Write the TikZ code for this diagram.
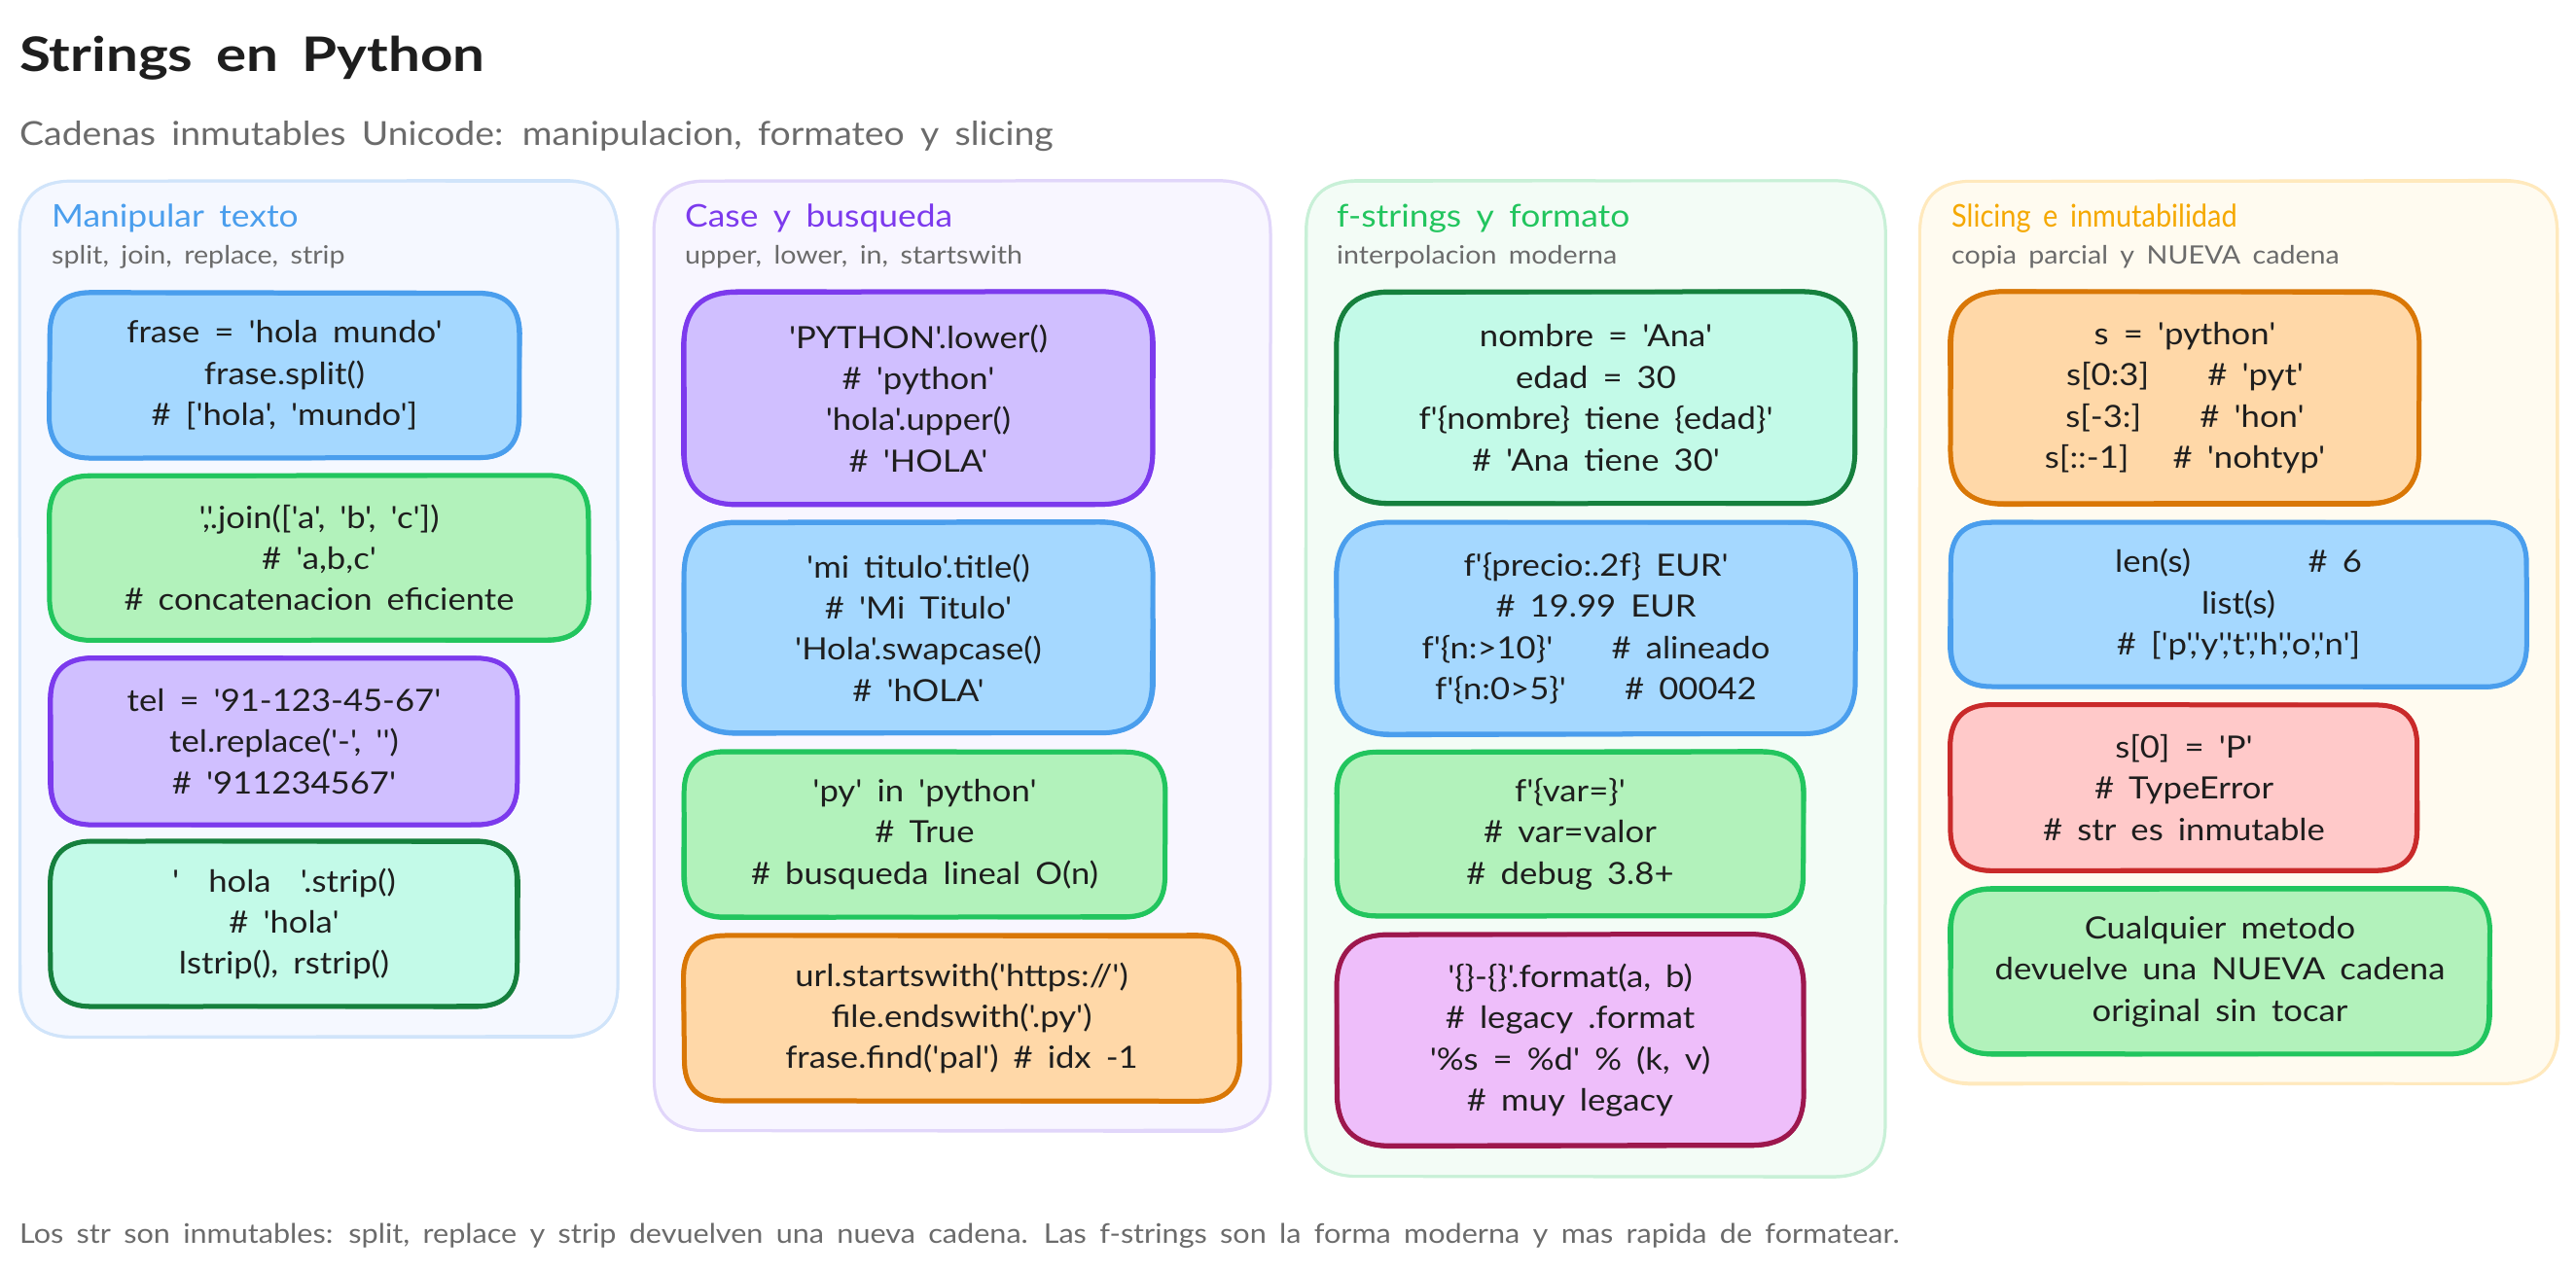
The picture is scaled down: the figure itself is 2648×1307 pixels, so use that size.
\documentclass[tikz,border=0pt]{standalone}
\usepackage{fontspec}
\usetikzlibrary{calc}
\newfontfamily\hand[WordSpace=1.7,FakeStretch=1.1]{Lato}
\newfontfamily\handwide[WordSpace=1.7,FakeStretch=1.19]{Lato}
\newfontfamily\handnarrow[WordSpace=1.7,FakeStretch=0.9]{Lato}
\definecolor{ink}{HTML}{1E1E1E}
\definecolor{muted}{HTML}{6B6B6B}
\definecolor{bS}{HTML}{4A9EED}\definecolor{bF}{HTML}{A5D8FF}
\definecolor{gS}{HTML}{22C55E}\definecolor{gF}{HTML}{B2F2BB}
\definecolor{vS}{HTML}{7C3AED}\definecolor{vF}{HTML}{D0BFFF}
\definecolor{tS}{HTML}{15803D}\definecolor{tF}{HTML}{C3FAE8}
\definecolor{oS}{HTML}{D97706}\definecolor{oF}{HTML}{FFD8A8}
\definecolor{pS}{HTML}{9D174D}\definecolor{pF}{HTML}{EEBEFA}
\definecolor{rS}{HTML}{C92A2A}\definecolor{rF}{HTML}{FFC9C9}
\definecolor{bpS}{HTML}{D0E4FA}\definecolor{bpF}{HTML}{F5F8FF}
\definecolor{vpS}{HTML}{E1D6FA}\definecolor{vpF}{HTML}{F8F6FF}
\definecolor{gpS}{HTML}{C8F0D7}\definecolor{gpF}{HTML}{F3FCF6}
\definecolor{apS}{HTML}{FFE9BD}\definecolor{apF}{HTML}{FFFBF0}
\definecolor{apT}{HTML}{F5A800}
\tikzset{
  cardtext/.style={align=center,text=ink,inner sep=0pt,
    font=\hand\fontsize{31.5}{42.4}\selectfont},
  heading/.style={anchor=base west,inner sep=0pt,font=\hand\fontsize{32.2}{40}\selectfont},
  caption/.style={anchor=base west,inner sep=0pt,text=muted,font=\hand\fontsize{26}{30}\selectfont},
}
% options, x1, y1, x2, y2, r, jitter
\newcommand\roughpath[7]{%
  \coordinate (p1) at ({#2+#6+rand*#7},{#3+rand*#7});
  \coordinate (p2) at ({#4-#6+rand*#7},{#3+rand*#7});
  \coordinate (p3) at ({#4+rand*#7},{#3+#6+rand*#7});
  \coordinate (p4) at ({#4+rand*#7},{#5-#6+rand*#7});
  \coordinate (p5) at ({#4-#6+rand*#7},{#5+rand*#7});
  \coordinate (p6) at ({#2+#6+rand*#7},{#5+rand*#7});
  \coordinate (p7) at ({#2+rand*#7},{#5-#6+rand*#7});
  \coordinate (p8) at ({#2+rand*#7},{#3+#6+rand*#7});
  \coordinate (c1) at (#4,#3);
  \coordinate (c2) at (#4,#5);
  \coordinate (c3) at (#2,#5);
  \coordinate (c4) at (#2,#3);
  \path[#1] (p1) -- (p2)
    .. controls ($(p2)!.667!(c1)$) and ($(p3)!.667!(c1)$) .. (p3) -- (p4)
    .. controls ($(p4)!.667!(c2)$) and ($(p5)!.667!(c2)$) .. (p5) -- (p6)
    .. controls ($(p6)!.667!(c3)$) and ($(p7)!.667!(c3)$) .. (p7) -- (p8)
    .. controls ($(p8)!.667!(c4)$) and ($(p1)!.667!(c4)$) .. cycle;
}
% shape: stroke, fill, x1,y1,x2,y2,r,width
\newcommand\roughshape[8]{%
  \roughpath{fill=#2}{#3}{#4}{#5}{#6}{#7}{0}
  \roughpath{draw=#1,line width=#8pt,line join=round}{#3}{#4}{#5}{#6}{#7}{0.5}
  \roughpath{draw=#1,line width=#8pt*0.8,line join=round}{#3}{#4}{#5}{#6}{#7}{1.2}
}
% name, stroke, fill, x1,y1,x2,y2, text
\newcommand\card[8]{%
  \pgfmathsetmacro\rr{0.25*(#7-#5)}
  \roughshape{#2}{#3}{#4}{#5}{#6}{#7}{\rr}{5}
  \node[cardtext,minimum width={(#6-#4)*1pt},minimum height={(#7-#5)*1pt}] (#1) at ({(#4+#6)/2},{(#5+#7)/2}) {#8};
}
\begin{document}
\begin{tikzpicture}[x=1pt,y=-1pt]
\pgfmathsetseed{11}
\useasboundingbox (0,0) rectangle (2648,1307);
\fill[white] (0,0) rectangle (2648,1307);
\node[anchor=base west,inner sep=0pt,text=ink,font=\handwide\bfseries\fontsize{49}{56}\selectfont] (title) at (20,73) {Strings en Python};
\node[anchor=base west,inner sep=0pt,text=muted,font=\hand\fontsize{34}{40}\selectfont] (subtitle) at (20,149) {Cadenas inmutables Unicode: manipulacion, formateo y slicing};
% panels
\roughshape{bpS}{bpF}{20}{186}{635}{1066}{54}{3}
\roughshape{vpS}{vpF}{672}{186}{1306}{1163}{54}{3}
\roughshape{gpS}{gpF}{1342}{186}{1938}{1210}{54}{3}
\roughshape{apS}{apF}{1973}{186}{2629}{1114}{54}{3}
\node[heading,text=bS] (h1) at (53,233) {Manipular texto};
\node[caption] (s1) at (53,271) {split, join, replace, strip};
\node[heading,text=vS] (h2) at (704,233) {Case y busqueda};
\node[caption] (s2) at (704,271) {upper, lower, in, startswith};
\node[heading,text=gS] (h3) at (1374,233) {f-strings y formato};
\node[caption] (s3) at (1374,271) {interpolacion moderna};
\node[heading,text=apT,font=\handnarrow\fontsize{32.2}{40}\selectfont] (h4) at (2006,233) {Slicing e inmutabilidad};
\node[caption] (s4) at (2006,271) {copia parcial y NUEVA cadena};
% column 1
\card{a1}{bS}{bF}{51}{301}{534}{471}{frase = 'hola mundo'\\frase.split()\\\# ['hola', 'mundo']}
\card{a2}{gS}{gF}{51}{489}{605}{658}{','.join(['a', 'b', 'c'])\\\# 'a,b,c'\\\# concatenacion eficiente}
\card{a3}{vS}{vF}{52}{677}{532}{848}{tel = '91-123-45-67'\\tel.replace('-', '')\\\# '911234567'}
\card{a4}{tS}{tF}{52}{865}{532}{1035}{'\ \ hola\ \ '.strip()\\\# 'hola'\\lstrip(), rstrip()}
% column 2
\card{b1}{vS}{vF}{703}{300}{1185}{519}{'PYTHON'.lower()\\\# 'python'\\'hola'.upper()\\\# 'HOLA'}
\card{b2}{bS}{bF}{703}{537}{1185}{754}{'mi titulo'.title()\\\# 'Mi Titulo'\\'Hola'.swapcase()\\\# 'hOLA'}
\card{b3}{gS}{gF}{703}{773}{1198}{943}{'py' in 'python'\\\# True\\\# busqueda lineal O(n)}
\card{b4}{oS}{oF}{703}{962}{1274}{1132}{url.startswith('https://')\\file.endswith('.py')\\frase.find('pal') \# idx -1}
% column 3
\card{c1}{tS}{tF}{1374}{300}{1907}{518}{nombre = 'Ana'\\edad = 30\\f'\{nombre\} tiene \{edad\}'\\\# 'Ana tiene 30'}
\card{c2}{bS}{bF}{1374}{537}{1907}{755}{f'\{precio:.2f\} EUR'\\\# 19.99 EUR\\f'\{n:>10\}'\ \ \ \ \# alineado\\f'\{n:0>5\}'\ \ \ \ \# 00042}
\card{c3}{gS}{gF}{1374}{773}{1854}{942}{f'\{var=\}'\\\# var=valor\\\# debug 3.8+}
\card{c4}{pS}{pF}{1374}{961}{1854}{1178}{'\{\}-\{\}'.format(a, b)\\\# legacy .format\\'\%s = \%d' \% (k, v)\\\# muy legacy}
% column 4
\card{d1}{oS}{oF}{2005}{300}{2487}{518}{s = 'python'\\s[0:3]\ \ \ \ \# 'pyt'\\s[-3:]\ \ \ \ \# 'hon'\\s[::-1]\ \ \ \# 'nohtyp'}
\card{d2}{bS}{bF}{2005}{537}{2597}{706}{len(s)\ \ \ \ \ \ \ \ \# 6\\list(s)\\\# ['p','y','t','h','o','n']}
\card{d3}{rS}{rF}{2005}{725}{2485}{895}{s[0] = 'P'\\\# TypeError\\\# str es inmutable}
\card{d4}{gS}{gF}{2005}{914}{2559}{1084}{Cualquier metodo\\devuelve una NUEVA cadena\\original sin tocar}
\node[anchor=base west,inner sep=0pt,text=muted,font=\hand\fontsize{27.8}{32}\selectfont] (foot) at (20,1278) {Los str son inmutables: split, replace y strip devuelven una nueva cadena. Las f-strings son la forma moderna y mas rapida de formatear.};
\end{tikzpicture}
\end{document}
